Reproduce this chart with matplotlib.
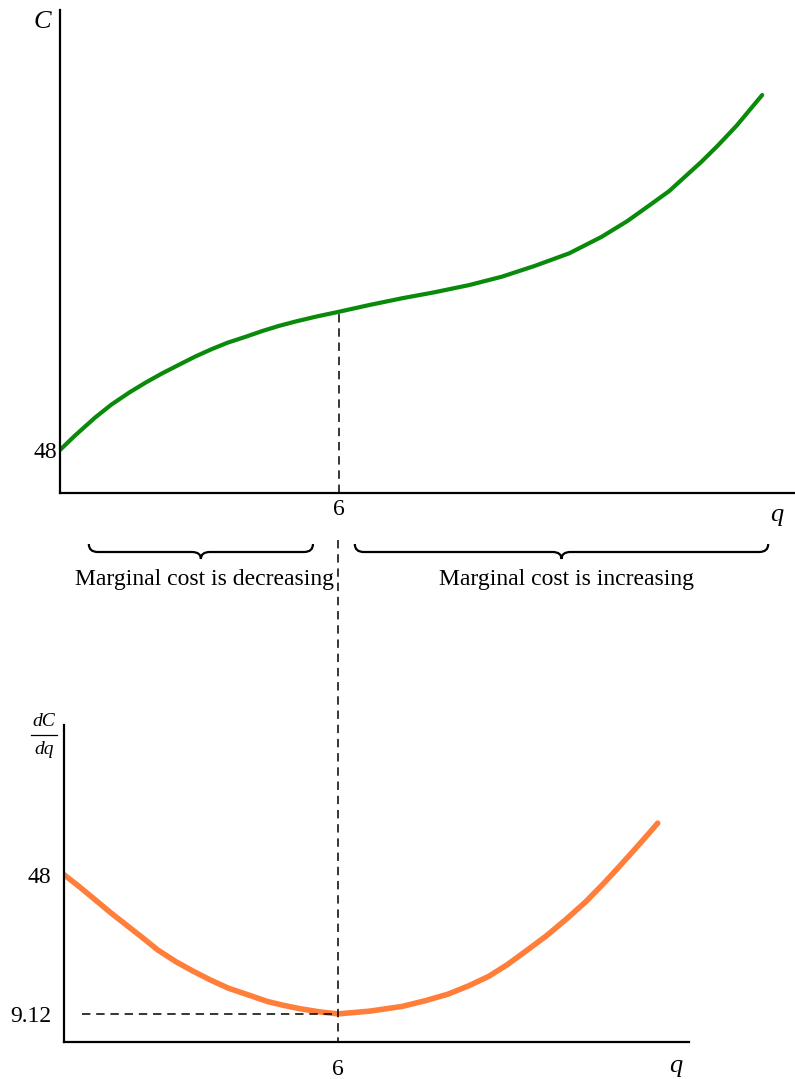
import matplotlib
matplotlib.use("Agg")
import matplotlib.pyplot as plt
from matplotlib.path import Path
from matplotlib.patches import PathPatch
from matplotlib.lines import Line2D
from matplotlib.transforms import blended_transform_factory

plt.rcParams['font.family'] = ['Liberation Serif', 'DejaVu Serif']

# Total cost C(q)
q_cost = [0, 0.32, 0.75, 1.1, 1.5, 1.85, 2.2, 2.55, 2.9, 3.25, 3.6, 4.0, 4.35, 4.7,
          5.05, 5.5, 6, 6.65, 7.35, 8.05, 8.8, 9.5, 10.2, 10.95, 11.65, 12.2, 12.7,
          13.1, 13.45, 13.8, 14.15, 14.55, 15.1]
cost = [48, 64.0, 84.0, 98.5, 112.5, 123.5, 133.6, 142.9, 152.1, 160.3, 167.7, 174.5,
        180.8, 186.4, 191.2, 196.8, 202.3, 209.8, 217.3, 224.0, 232.1, 241.4, 253.3,
        267.5, 286.0, 303.5, 322.0, 337.0, 353.5, 370.0, 388.0, 410.0, 444.2]

# Marginal cost dC/dq
q_mc = [0, 0.35, 0.7, 1.03, 1.4, 1.72, 2.05, 2.45, 2.85, 3.22, 3.6, 4.04, 4.45, 4.81,
        5.15, 5.59, 6, 6.7, 7.4, 7.91, 8.4, 8.85, 9.3, 9.71, 10.15, 10.57, 11.0, 11.43,
        11.85, 12.16, 12.45, 12.77, 13.0]
mc = [48, 44.5, 40.8, 37.3, 33.6, 30.4, 27.0, 23.7, 20.9, 18.5, 16.3, 14.4, 12.6, 11.5,
      10.6, 9.7, 9.12, 9.9, 11.2, 12.8, 14.6, 16.9, 19.6, 22.9, 27.0, 31.0, 35.6, 40.5,
      46.0, 50.3, 54.4, 59.0, 62.4]

q_star = 6
cost_at_q_star = 202.3
mc_min = 9.12
cost_tick = 48
mc_tick = 48

FS = 17
W, H = 795, 1079
fig = plt.figure(figsize=(W / 100, H / 100), dpi=100)


def box(left, top, right, bottom):
    return [left / W, 1 - bottom / H, (right - left) / W, (bottom - top) / H]


ax_top = fig.add_axes(box(60, 10, 795, 493))
ax_bot = fig.add_axes(box(64, 725, 689, 1042))
ann = fig.add_axes([0, 0, 1, 1])
ann.set_xlim(0, W)
ann.set_ylim(H, 0)
ann.axis('off')

for ax in (ax_top, ax_bot):
    for s in ('top', 'right'):
        ax.spines[s].set_visible(False)
    for s in ('left', 'bottom'):
        ax.spines[s].set_linewidth(1.6)
        ax.spines[s].set_color('black')
    ax.tick_params(length=0, labelsize=FS)
    ax.patch.set_alpha(0)

dash = (0, (5.5, 3.8))

# --- total cost panel ---
ax_top.plot(q_cost, cost, color='#0a8a0a', lw=3.0, solid_capstyle='round',
            solid_joinstyle='round')
ax_top.set_xlim(0, 15.806)
ax_top.set_ylim(0, 539.1)
ax_top.set_xticks([q_star])
ax_top.set_xticklabels(['6'])
ax_top.set_yticks([cost_tick])
ax_top.set_yticklabels(['48'])
ax_top.tick_params(axis='x', pad=4)
ax_top.tick_params(axis='y', pad=2)
ax_top.vlines(q_star, 0, cost_at_q_star, colors='black', lw=1.1, linestyles=[dash], clip_on=False)

# --- marginal cost panel ---
ax_bot.plot(q_mc, mc, color='#ff7f3a', lw=4.0, solid_capstyle='round',
            solid_joinstyle='round')
ax_bot.set_xlim(0, 13.685)
ax_bot.set_ylim(1.27, 89.8)
ax_bot.set_xticks([q_star])
ax_bot.set_xticklabels(['6'])
ax_bot.set_yticks([mc_min, mc_tick])
ax_bot.set_yticklabels(['9.12', '48'])
ax_bot.tick_params(axis='x', pad=12)
ax_bot.tick_params(axis='y', pad=9)
ax_bot.hlines(mc_min, 0.39, q_star, colors='black', lw=1.1, linestyles=[dash])

# dashed guide running from below the upper axis down to the lower axis
guide_tr = blended_transform_factory(ax_bot.transData, ann.transData)
ann.add_line(Line2D([q_star, q_star], [540, 1042], transform=guide_tr,
                    color='black', lw=1.1, linestyle=dash))

# axis titles
ann.text(42, 22, 'C', fontsize=19, fontstyle='italic', ha='center', va='center')
ann.text(777, 521, 'q', fontsize=19, fontstyle='italic', ha='center', va='baseline')
ann.text(676, 1072, 'q', fontsize=19, fontstyle='italic', ha='center', va='baseline')
ann.text(44, 721, 'dC', fontsize=14, fontstyle='italic', ha='center', va='center')
ann.add_line(Line2D([31, 57], [735, 735], color='black', lw=0.9))
ann.text(44, 749, 'dq', fontsize=14, fontstyle='italic', ha='center', va='center')


def to_px(q):
    disp = ax_top.transData.transform((q, 0))
    return ann.transData.inverted().transform(disp)[0]


def brace(q0, q1, y_end=544, y_flat=552, y_tip=559, r=9):
    x0, x1 = to_px(q0), to_px(q1)
    xm = (x0 + x1) / 2
    verts = [(x0, y_end), (x0, y_flat), (x0 + r, y_flat),
             (xm - r, y_flat),
             (xm, y_flat), (xm, y_tip),
             (xm, y_flat), (xm + r, y_flat),
             (x1 - r, y_flat),
             (x1, y_flat), (x1, y_end)]
    codes = [Path.MOVETO, Path.CURVE3, Path.CURVE3,
             Path.LINETO,
             Path.CURVE3, Path.CURVE3,
             Path.CURVE3, Path.CURVE3,
             Path.LINETO,
             Path.CURVE3, Path.CURVE3]
    ann.add_patch(PathPatch(Path(verts, codes), fill=False, lw=1.6, edgecolor='black'))
    return xm


xm_dec = brace(0.62, 5.44)
xm_inc = brace(6.34, 15.23)
ann.text(xm_dec + 4, 580, 'Marginal cost is decreasing', fontsize=FS, ha='center', va='center')
ann.text(xm_inc + 5, 580, 'Marginal cost is increasing', fontsize=FS, ha='center', va='center')

fig.savefig('out.png', dpi=100)
